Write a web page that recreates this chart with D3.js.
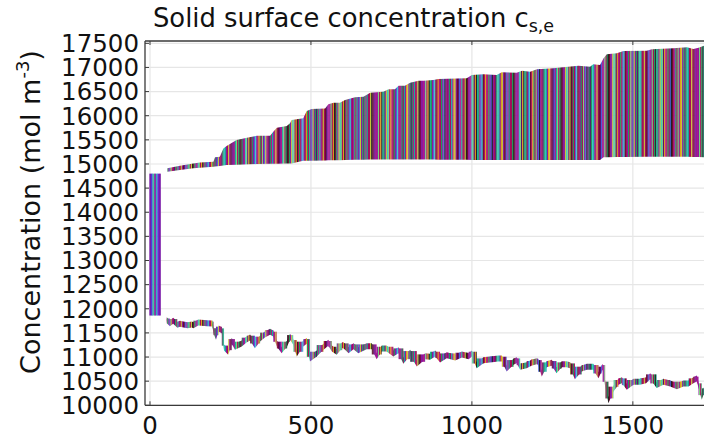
<!DOCTYPE html>
<html><head><meta charset="utf-8">
<script src="https://cdn.jsdelivr.net/npm/d3@7"></script>
<style>body{margin:0;background:#fff}svg{display:block}</style>
</head><body><svg id="c" width="704" height="440"></svg>
<script>
// ---- data ----
const title = "Solid surface concentration c";
const titleSub = "s,e";
const yLabel = "Concentration (mol m";
const yLabelSup = "-3";
const xTicks = [0, 500, 1000, 1500];
const yTicks = [10000,10500,11000,11500,12000,12500,13000,13500,14000,14500,15000,15500,16000,16500,17000,17500];

// initial block (t range, low, high)
const blockT = [-2, 33];
const blockV = [11860, 14800];

// upper band: top edge
const upTopT = [54,93,135,155,197,202,217,228,238,269,305,332,373,383,394,425,435,440,476,487,502,544,554,570,590,606,637,663,684,725,741,761,772,792,808,834,850,880,896,984,1000,1036,1077,1093,1139,1156,1181,1202,1253,1300,1331,1367,1377,1398,1409,1419,1450,1471,1543,1559,1626,1668,1688,1704,1721];
const upTopV = [14909,14963,15012,15033,15046,15137,15150,15323,15371,15496,15551,15585,15585,15667,15750,15786,15842,15910,15945,16097,16138,16152,16235,16269,16269,16325,16381,16393,16476,16497,16546,16546,16621,16621,16683,16725,16725,16739,16760,16774,16843,16857,16843,16899,16891,16932,16911,16961,16982,17015,17036,17015,17065,17050,17189,17272,17293,17340,17347,17376,17396,17417,17382,17409,17450];
// upper band: bottom edge
const upBotT = [54,93,135,197,217,238,330,440,476,600,700,900,1100,1400,1409,1500,1650,1721];
const upBotV = [14838,14873,14909,14942,14956,14977,14998,15012,15066,15080,15095,15090,15080,15080,15137,15150,15150,15140];

// lower wiggly band (centre line)
const lowT = [52,62,72,85,93,100,117,130,135,150,177,194,197,205,213,223,230,243,254,264,285,300,311,326,342,357,373,383,394,409,426,435,445,456,476,487,497,518,539,554,565,580,597,601,617,632,647,673,689,704,720,735,756,772,787,808,829,855,870,886,901,922,948,969,990,1000,1015,1036,1056,1082,1093,1108,1129,1139,1150,1170,1185,1201,1206,1217,1232,1248,1263,1279,1294,1305,1320,1341,1357,1377,1393,1403,1406,1414,1424,1440,1455,1466,1481,1502,1522,1541,1554,1574,1595,1616,1637,1657,1673,1688,1699,1704,1714,1721];
const lowV = [11760,11700,11750,11670,11690,11681,11660,11675,11660,11716,11700,11696,11560,11418,11592,11557,11200,11107,11335,11211,11281,11364,11405,11246,11385,11468,11522,11488,11281,11142,11281,11418,11315,11073,11281,11335,10969,11073,11211,11295,11176,11107,11246,11246,11142,11225,11142,11225,11225,11018,11176,11176,11073,11142,10921,11087,10866,11018,11004,11073,10949,11038,10990,11052,11018,11073,10831,10935,10949,10969,10969,10763,10900,10935,10797,10831,10880,10914,10900,10659,10852,10880,10728,10852,10852,10831,10604,10763,10797,10797,10625,10763,10797,10452,10107,10349,10487,10521,10383,10487,10487,10521,10604,10418,10487,10452,10397,10452,10452,10521,10556,10418,10176,10314,10369];
const n = Math.min(lowT.length, lowV.length);

const palette = ["#8a1a9e","#a50d5a","#23975a","#7cd27c","#6b0a2e","#16b09c","#8a1a9e","#a50d5a","#3fc6c6","#222222","#b0188a","#c7c43a","#23975a","#4b5fd6","#e29a1d","#8a1a9e","#a50d5a","#5a1070"];
const blockPalette = ["#7a1aa8","#4b3fd6","#3fc6a0","#8a1a9e","#2fb0c0","#6a2ad0"];

// ---- layout ----
const svg = d3.select("#c");
const L = 145, R = 704, T = 41, B = 405.3;
const x = d3.scaleLinear().domain([-15.5, 1721]).range([L, R]);
const y = d3.scaleLinear().domain([10000, 17548]).range([B, T]);

// grid
svg.append("g").selectAll("line").data(yTicks).join("line")
  .attr("x1", L).attr("x2", R).attr("y1", d => y(d)).attr("y2", d => y(d))
  .attr("stroke", "#e6e6e6").attr("stroke-width", 1.2);
svg.append("g").selectAll("line").data(xTicks).join("line")
  .attr("y1", T).attr("y2", B).attr("x1", d => x(d)).attr("x2", d => x(d))
  .attr("stroke", "#e6e6e6").attr("stroke-width", 1.2);

// clip shapes
const defs = svg.append("defs");
const cp = defs.append("clipPath").attr("id", "bands");
const botFn = t => {
  for (let i=0;i<upBotT.length-1;i++) if (t>=upBotT[i] && t<=upBotT[i+1]) {
    const f=(t-upBotT[i])/(upBotT[i+1]-upBotT[i]); return upBotV[i]+f*(upBotV[i+1]-upBotV[i]); }
  return upBotV[upBotV.length-1];
};
const upperPts = upTopT.map((t,i)=>({t, hi: upTopV[i], lo: botFn(t)}));
cp.append("path").attr("d", d3.area().x(d=>x(d.t)).y0(d=>y(d.lo)).y1(d=>y(d.hi)).curve(d3.curveLinear)(upperPts));
const lowPts = d3.range(n).map(i=>({t: lowT[i], v: lowV[i]}));
const hw = 62;
cp.append("path").attr("d", d3.area().x(d=>x(d.t)).y0(d=>y(d.v-hw)).y1(d=>y(d.v+hw))(lowPts));
for (let i=0;i<n-1;i++){
  const a=lowPts[i], b=lowPts[i+1];
  cp.append("rect").attr("x", x(a.t)).attr("width", Math.max(1.2, x(b.t)-x(a.t)))
    .attr("y", y(Math.max(a.v,b.v)+hw*0.6)).attr("height", Math.abs(y(a.v)-y(b.v))+0.1);
}

// stripes
const step = 3.5;
const stripes = d3.range(50, 1722, step);
const hash = i => (Math.imul(i+17, 2654435761) >>> 7);
svg.append("g").attr("clip-path","url(#bands)").selectAll("rect").data(stripes).join("rect")
  .attr("x", d => x(d)).attr("width", x(step)-x(0)+0.3)
  .attr("y", T).attr("height", B-T)
  .attr("fill", (d,i) => palette[hash(i) % palette.length]);

// initial block
const bStep = 5;
svg.append("g").selectAll("rect").data(d3.range(blockT[0], blockT[1], bStep)).join("rect")
  .attr("x", d => x(d)).attr("width", x(bStep)-x(0)+0.2)
  .attr("y", y(blockV[1])).attr("height", y(blockV[0]) - y(blockV[1]))
  .attr("fill", (d,i) => blockPalette[i % blockPalette.length]);

// frame + ticks
const ax = "#3a3a3a";
svg.append("line").attr("x1",L).attr("x2",R).attr("y1",T).attr("y2",T).attr("stroke",ax).attr("stroke-width",1.3);
svg.append("line").attr("x1",L).attr("x2",R).attr("y1",B).attr("y2",B).attr("stroke",ax).attr("stroke-width",1.3);
svg.append("line").attr("x1",L).attr("x2",L).attr("y1",T).attr("y2",B).attr("stroke",ax).attr("stroke-width",1.3);
svg.append("g").selectAll("line").data(yTicks).join("line")
  .attr("x1", L).attr("x2", L+4).attr("y1", d=>y(d)).attr("y2", d=>y(d)).attr("stroke", ax);
svg.append("g").selectAll("line").data(xTicks).join("line")
  .attr("x1", d=>x(d)).attr("x2", d=>x(d)).attr("y1", B).attr("y2", B-4).attr("stroke", ax);
svg.append("g").selectAll("line").data(xTicks).join("line")
  .attr("x1", d=>x(d)).attr("x2", d=>x(d)).attr("y1", T).attr("y2", T+4).attr("stroke", ax);

const font = "DejaVu Sans";
svg.append("g").selectAll("text").data(yTicks).join("text")
  .attr("x", 139).attr("y", d=>y(d)).attr("dy","0.36em")
  .attr("text-anchor","end").attr("font-family",font).attr("font-size",24.5).attr("fill","#111")
  .text(d=>d);
svg.append("g").selectAll("text").data(xTicks).join("text")
  .attr("x", d=>x(d)).attr("y", 434)
  .attr("text-anchor","middle").attr("font-family",font).attr("font-size",24.5).attr("fill","#111")
  .text(d=>d);

// title
const tt = svg.append("text").attr("x",153).attr("y",27).attr("font-family",font).attr("font-size",25.8).attr("fill","#111");
tt.append("tspan").text(title);
tt.append("tspan").attr("font-size",17.5).attr("dy",5).text(titleSub);

// y label
const yl = svg.append("text").attr("transform","translate(40,212) rotate(-90)")
  .attr("text-anchor","middle").attr("font-family",font).attr("font-size",27).attr("fill","#111");
yl.append("tspan").text(yLabel);
yl.append("tspan").attr("font-size",18).attr("dy",-11).text(yLabelSup);
yl.append("tspan").attr("dy",11).text(")");
</script></body></html>
